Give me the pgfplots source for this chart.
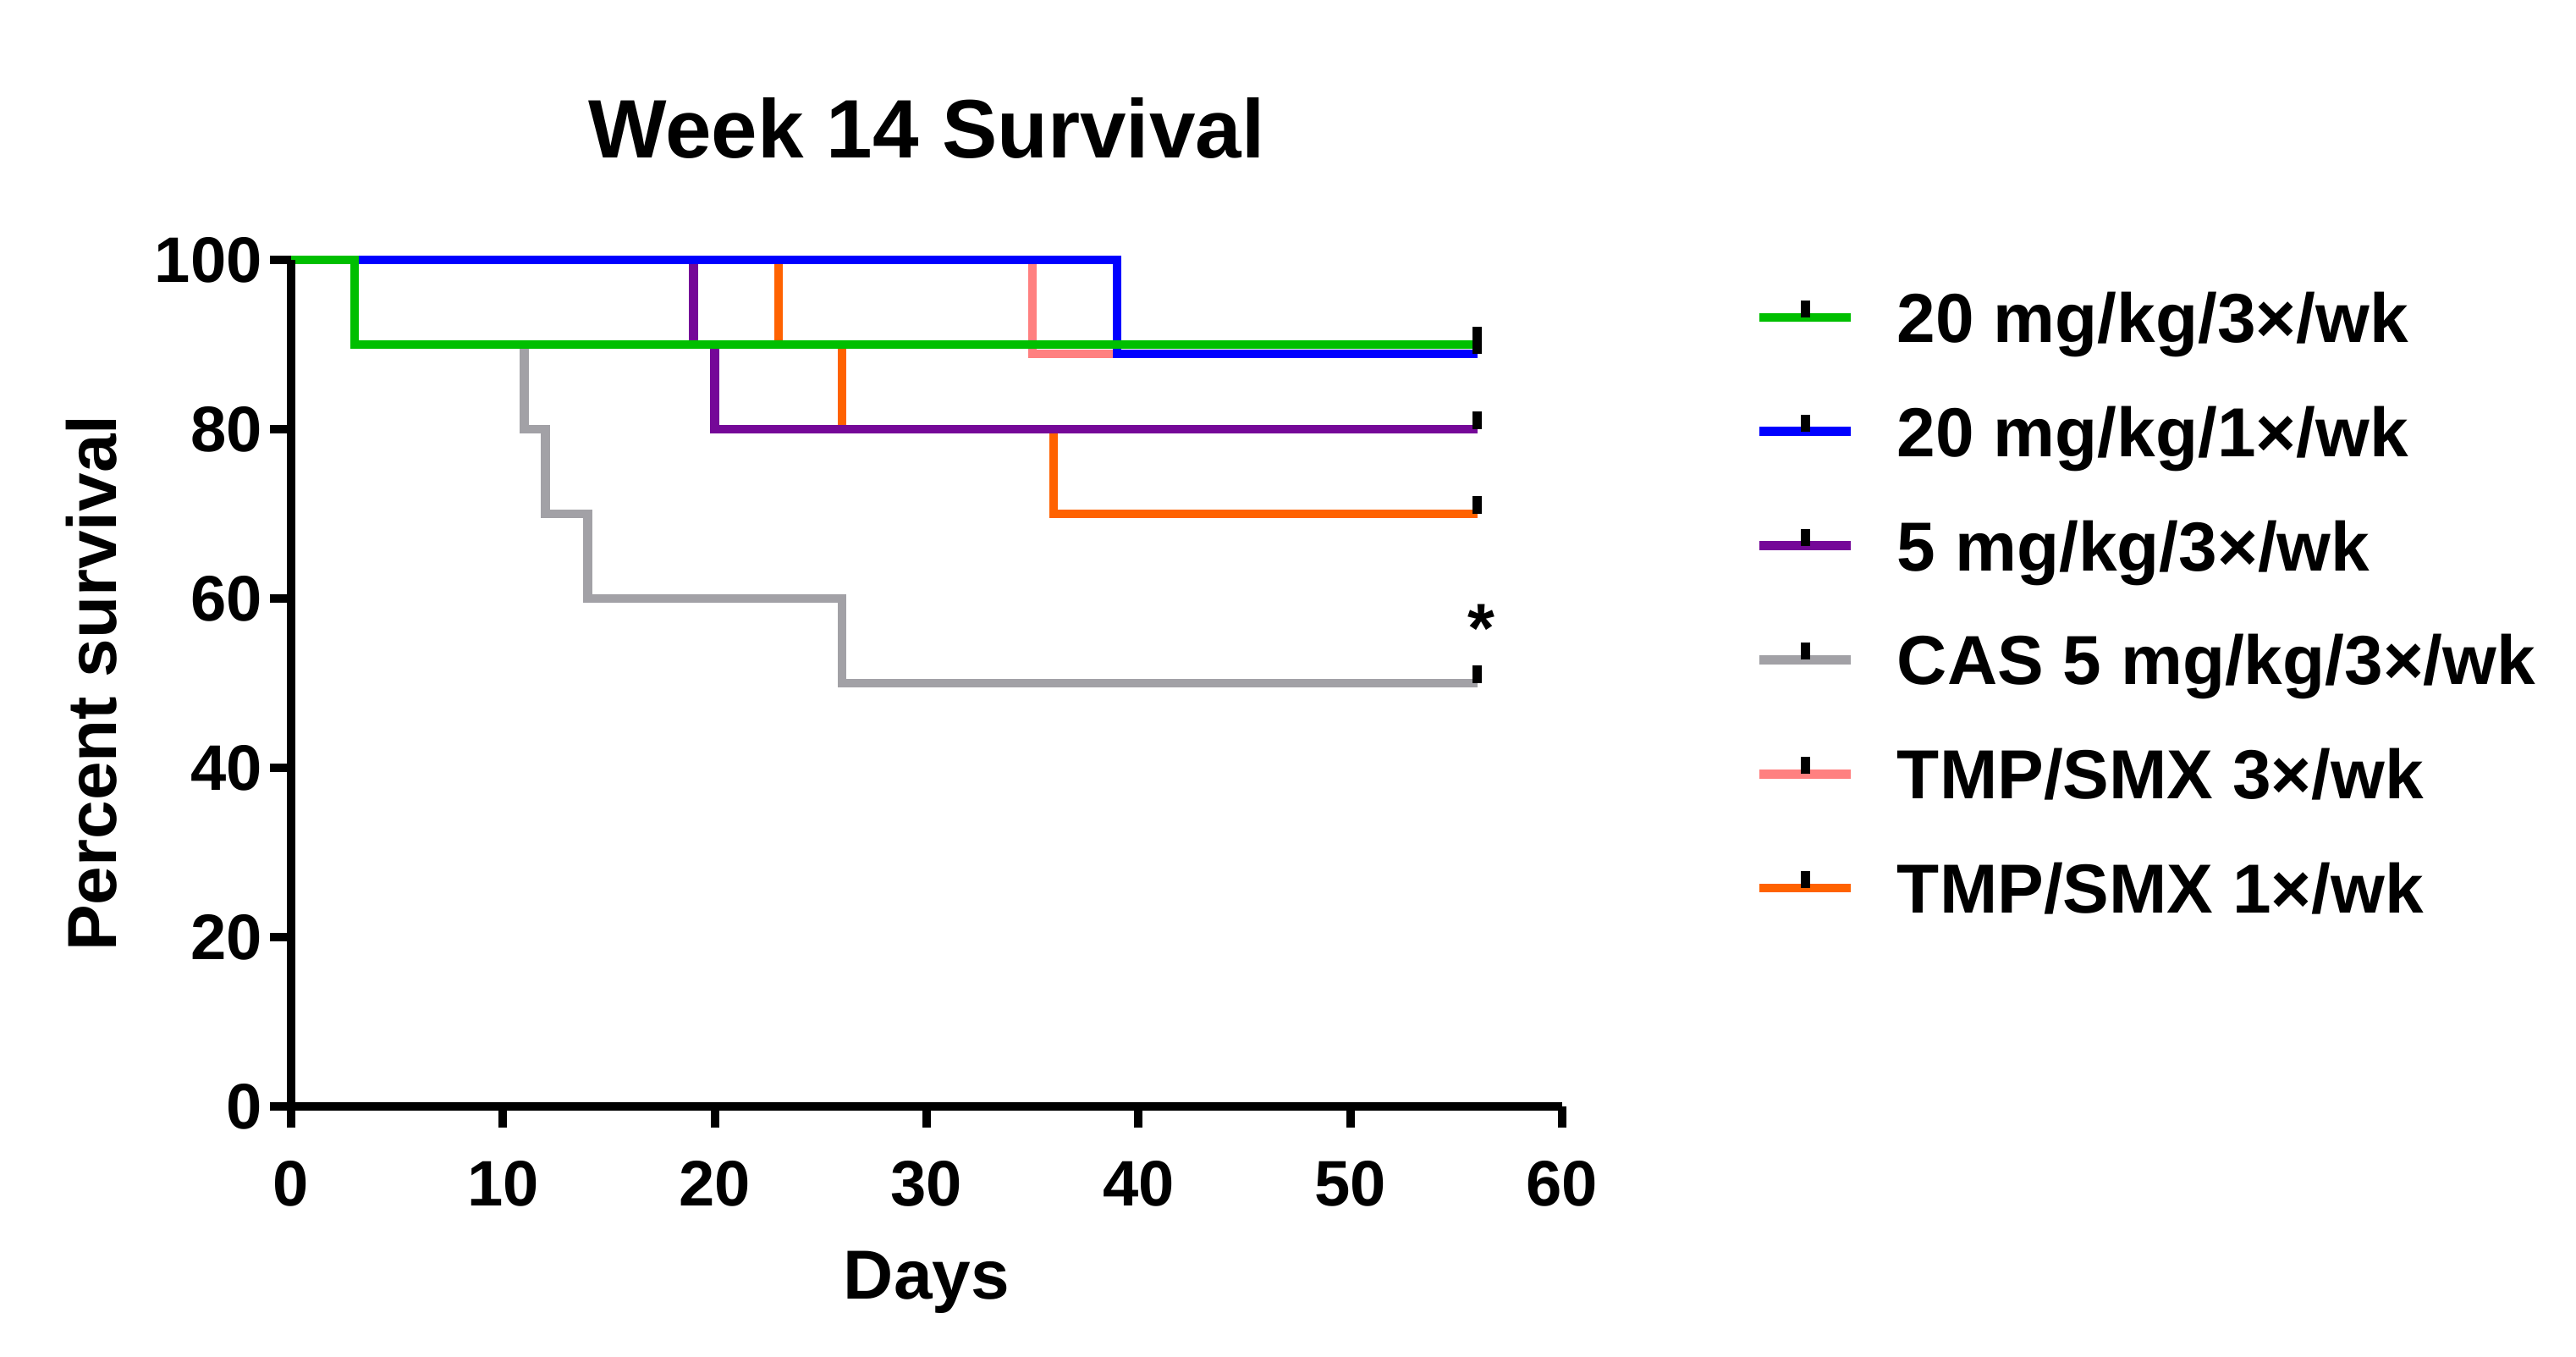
\documentclass[border=0pt]{standalone}
\usepackage{fontspec}
\setmainfont{Liberation Sans}
\usepackage{pgfplots}
\pgfplotsset{compat=1.18}
\definecolor{cgreen}{RGB}{0,191,0}
\definecolor{cblue}{RGB}{0,0,255}
\definecolor{cpurple}{RGB}{117,8,152}
\definecolor{cgray}{RGB}{162,161,166}
\definecolor{cpink}{RGB}{255,128,128}
\definecolor{corange}{RGB}{255,98,0}
\pgfdeclareplotmark{cens}{%
  \pgfpathmoveto{\pgfpointorigin}%
  \pgfpathlineto{\pgfpoint{0pt}{5.2pt}}%
  \pgfusepathqstroke}
\begin{document}
\begin{tikzpicture}
\path[use as bounding box] (0,0) rectangle (761pt,400.75pt);
\begin{axis}[
  at={(86pt,74pt)}, anchor=south west,
  scale only axis, width=375.5pt, height=250pt,
  xmin=0, xmax=60, ymin=0, ymax=100,
  clip=false,
  axis lines=left,
  axis line style={-, line width=2.7pt, black},
  axis on top,
  xtick={0,10,...,60}, ytick={0,20,...,100},
  tick align=outside, major tick length=6.25pt,
  tick style={line width=2.5pt, black},
  /pgf/number format/assume math mode=true,
  ticklabel style={font=\fontsize{19}{23}\selectfont\bfseries},
  yticklabel style={xshift=1.2pt},
  xticklabel style={yshift=-6.3pt},
  title={Week 14 Survival},
  title style={font=\fontsize{24.5}{29}\selectfont\bfseries, at={(axis description cs:0.5,1)}, anchor=base, yshift=24.1pt},
  xlabel={Days},
  xlabel style={font=\fontsize{20.5}{25}\selectfont\bfseries, at={(axis description cs:0.5,0)}, anchor=base, yshift=-57pt},
  ylabel={Percent survival},
  ylabel style={font=\fontsize{20.5}{25}\selectfont\bfseries, at={(axis description cs:-0.1378,0.5)}, anchor=base},
  legend cell align=left,
  legend image code/.code={
    \draw[line width=2.7pt] (0pt,2.4pt) -- (27pt,2.4pt);
    \draw[black, line width=2.75pt] (13.5pt,2.4pt) -- (13.5pt,7.4pt);
  },
  legend style={
    at={(rel axis cs:1.1518,0.9624)}, anchor=north west,
    draw=none, fill=none, inner sep=0pt, outer sep=0pt,
    row sep=13.7pt, column sep=0pt,
    font=\fontsize{20.5}{25}\selectfont\bfseries,
    nodes={inner sep=0pt, text height=15pt, text depth=5pt},
    /tikz/every odd column/.append style={column sep=12.3pt},
  },
  every axis plot/.append style={line width=2.6pt, const plot, line cap=butt, line join=miter},
]
\addlegendimage{draw=cgreen}
\addlegendentry{20 mg/kg/3×/wk}
\addlegendimage{draw=cblue}
\addlegendentry{20 mg/kg/1×/wk}
\addlegendimage{draw=cpurple}
\addlegendentry{5 mg/kg/3×/wk}
\addlegendimage{draw=cgray}
\addlegendentry{CAS 5 mg/kg/3×/wk}
\addlegendimage{draw=cpink}
\addlegendentry{TMP/SMX 3×/wk}
\addlegendimage{draw=corange}
\addlegendentry{TMP/SMX 1×/wk}

% CAS 5 mg/kg/3x/wk
\addplot[cgray, forget plot] coordinates {(0,100) (3,90) (11,80) (12,70) (14,60) (26,50) (56,50)};
% TMP/SMX 1x/wk
\addplot[corange, forget plot] coordinates {(0,100) (23,90) (26,80) (36,70) (56,70)};
% TMP/SMX 3x/wk
\addplot[cpink, forget plot] coordinates {(0,100) (35,88.89) (56,88.89)};
% 5 mg/kg/3x/wk
\addplot[cpurple, forget plot] coordinates {(0,100) (19,90) (20,80) (56,80)};
% 20 mg/kg/1x/wk
\addplot[cblue, forget plot] coordinates {(0,100) (39,88.89) (56,88.89)};
% 20 mg/kg/3x/wk
\addplot[cgreen, forget plot] coordinates {(0,100) (3,90) (56,90)};
% censored marks
\addplot[only marks, mark=cens, mark options={black, line width=2.75pt}, forget plot]
  coordinates {(56,50) (56,70) (56,88.89) (56,80) (56,88.89) (56,90)};
\node[inner sep=0pt, anchor=north, font=\fontsize{20.5}{25}\selectfont\bfseries] at (axis cs:56.2,59.4) {*};
\end{axis}
\end{tikzpicture}
\end{document}
